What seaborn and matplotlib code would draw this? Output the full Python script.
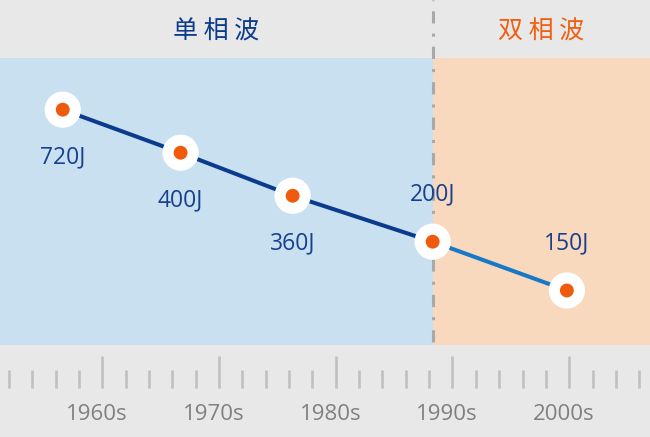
import numpy as np
import pandas as pd
import matplotlib
matplotlib.use("Agg")
import matplotlib.pyplot as plt
import matplotlib.transforms as mtransforms
import seaborn as sns

# ---- data ----
eras = ["单相波", "双相波"]
years = [1956.6, 1966.7, 1976.3, 1988.3, 1999.8]        # x position (year) of each point
level = [82, 67, 52, 36, 19]                            # vertical level (0-100)
energy_labels = ["720J", "400J", "360J", "200J", "150J"]
point_era = ["单相波", "单相波", "单相波", "单相波", "双相波"]
label_side = ["below", "below", "below", "above", "above"]
decade_ticks = [1960, 1970, 1980, 1990, 2000]
decade_labels = ["1960s", "1970s", "1980s", "1990s", "2000s"]
minor_ticks = [y for y in range(1952, 2007, 2) if y % 10 != 0]

df = pd.DataFrame({"year": years, "level": level, "label": energy_labels, "era": point_era})

# ---- style ----
sns.set_theme(style="white")
plt.rcParams["font.family"] = ["Open Sans", "Noto Sans CJK SC", "DejaVu Sans"]

GRAY_BG = "#e8e8e8"
BLUE_BG = "#c8e0f0"
ORANGE_BG = "#f8d9bd"
NAVY = "#0b3b8d"
LIGHT = "#1878c8"
ORANGE = "#f05a0c"
LABEL = "#18408f"
TICK = "#c0c0c0"

W, H = 650, 437
fig = plt.figure(figsize=(W / 100, H / 100), dpi=100, facecolor=GRAY_BG)

ax = fig.add_axes([0, (H - 345) / H, 1, 287 / H])
xl = (1960 - 102.4 / 11.67, 1960 - 102.4 / 11.67 + W / 11.67)
ax.set_xlim(*xl)
ax.set_ylim(0, 100)
boundary = years[3]
ax.axvspan(xl[0], boundary, color=BLUE_BG, lw=0, zorder=0)
ax.axvspan(boundary, xl[1], color=ORANGE_BG, lw=0, zorder=0)

sns.lineplot(data=df.iloc[:4], x="year", y="level", color=NAVY, lw=2.9, ax=ax, zorder=2)
sns.lineplot(data=df.iloc[3:], x="year", y="level", color=LIGHT, lw=2.9, ax=ax, zorder=2)
sns.scatterplot(data=df, x="year", y="level", s=680, color="white", edgecolor="none", ax=ax, zorder=3)
sns.scatterplot(data=df, x="year", y="level", s=100, color=ORANGE, edgecolor="none", ax=ax, zorder=4)

for i, r in df.iterrows():
    dy = -34 if label_side[i] == "below" else 34
    ax.annotate(r["label"], (r["year"], r["level"]), xytext=(0, dy), textcoords="offset points",
                ha="center", va="center", fontsize=16.5, color=LABEL, zorder=5)

# divider line spanning header + plot (below markers)
ax.axvline(boundary, ymin=0.01, ymax=345 / 287, color="#a9a9a9", lw=2.2, clip_on=False,
           linestyle=(0, (4.0, 3.3, 1.0, 3.3)), zorder=1.5)

# header text
trans = mtransforms.blended_transform_factory(ax.transData, fig.transFigure)
hy = (H - 32) / H
ax.text((xl[0] + boundary) / 2, hy, "单 相 波", transform=trans, ha="center", va="center",
        fontsize=18, color=NAVY, family=["Noto Sans CJK SC", "DejaVu Sans"])
ax.text((boundary + xl[1]) / 2, hy, "双 相 波", transform=trans, ha="center", va="center",
        fontsize=18, color="#f06012", family=["Noto Sans CJK SC", "DejaVu Sans"])

ax.set_xlabel("")
ax.set_ylabel("")
ax.set_xticks([])
ax.set_yticks([])
for s in ax.spines.values():
    s.set_visible(False)

# bottom ruler axis
bx = fig.add_axes([0, (H - 388) / H, 1, 43 / H])
bx.set_facecolor("none")
for s in bx.spines.values():
    s.set_visible(False)
bx.set_xlim(*xl)
bx.set_yticks([])
bx.set_xticks(decade_ticks)
bx.set_xticklabels(decade_labels)
bx.set_xticks(minor_ticks, minor=True)
bx.tick_params(axis="x", which="major", direction="in", length=23, width=1.9, color=TICK,
               labelsize=16, labelcolor="#808080", pad=11.5, bottom=True)
bx.tick_params(axis="x", which="minor", direction="in", length=13, width=1.9, color=TICK, bottom=True)
off = mtransforms.ScaledTranslation(-5.5 / 100, 0, fig.dpi_scale_trans)
for t in bx.get_xticklabels():
    t.set_transform(t.get_transform() + off)

fig.savefig("out.png", dpi=100, facecolor=GRAY_BG)
